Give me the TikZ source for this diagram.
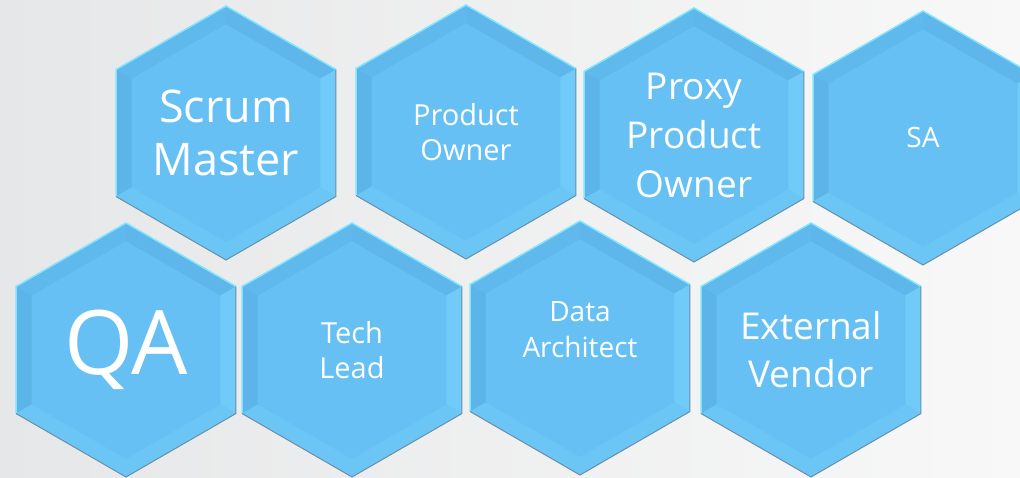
\documentclass[tikz,border=0pt]{standalone}
\usepackage{fontspec}
\setmainfont{Open Sans}
\usetikzlibrary{shapes, calc, positioning}

\definecolor{bgleft}{HTML}{E6E7E8}
\definecolor{bgright}{HTML}{F8F8F8}
\definecolor{cellblue}{HTML}{66C0F4}
\definecolor{bevelTL}{HTML}{60B9ED}
\definecolor{bevelTR}{HTML}{5EB6EA}
\definecolor{bevelL}{HTML}{5DB4E8}
\definecolor{bevelR}{HTML}{70CBF8}
\definecolor{bevelB}{HTML}{6BC6F5}
\definecolor{rimlight}{HTML}{80E6FF}
\definecolor{rimdark}{HTML}{6A8FA8}

\tikzstyle{cell}=[regular polygon, regular polygon sides=6, shape border rotate=30, minimum size=254pt, inner sep=0pt, fill=cellblue, text=white, align=center]

\begin{document}
\begin{tikzpicture}[x=1pt, y=1pt]
    % background
    \useasboundingbox (0,0) rectangle (1020,477);
    \shade[left color=bgleft, right color=bgright] (0,0) rectangle (1020,477);

    % top row
    \node (sm)[cell, font=\fontsize{45}{53}\selectfont] at (226,344) {Scrum\\Master};
    \node (po)[cell, font=\fontsize{29}{35}\selectfont] at (466,345) {Product\\Owner};
    \node (ppo)[cell, font=\fontsize{37}{49}\selectfont] at (694,342) {Proxy\\Product\\Owner};
    \node (sa)[cell, font=\fontsize{28}{34}\selectfont] at (923,339) {SA};

    % bottom row
    \node (qa)[cell, font=\fontsize{89}{95}\selectfont] at (126,127) {QA};
    \node (tl)[cell, font=\fontsize{29}{35}\selectfont] at (352,127) {Tech\\Lead};
    \node (da)[cell, font=\fontsize{28}{36}\selectfont, text depth=36pt] at (580,129) {Data\\Architect};
    \node (ev)[cell, font=\fontsize{37}{48}\selectfont] at (811,127) {External\\Vendor};

    % bevel
    \foreach \n in {sm,po,ppo,sa,qa,tl,da,ev}{
        \foreach \a/\c in {90/bevelTL, 30/bevelTR, 150/bevelL, -30/bevelR, 210/bevelB, 270/bevelB}
            \fill[\c] ($(\n.center)+(\a:127)$) -- ($(\n.center)+(\a+60:127)$) -- ($(\n.center)+(\a+60:109)$) -- ($(\n.center)+(\a:109)$) -- cycle;
        \draw[rimlight, line width=1.5pt] ($(\n.center)+(210:127)$) -- ($(\n.center)+(150:127)$) -- ($(\n.center)+(90:127)$) -- ($(\n.center)+(30:127)$);
        \draw[rimdark, line width=1pt] ($(\n.center)+(30:127)$) -- ($(\n.center)+(-30:127)$) -- ($(\n.center)+(270:127)$) -- ($(\n.center)+(210:127)$);
    }
\end{tikzpicture}
\end{document}
